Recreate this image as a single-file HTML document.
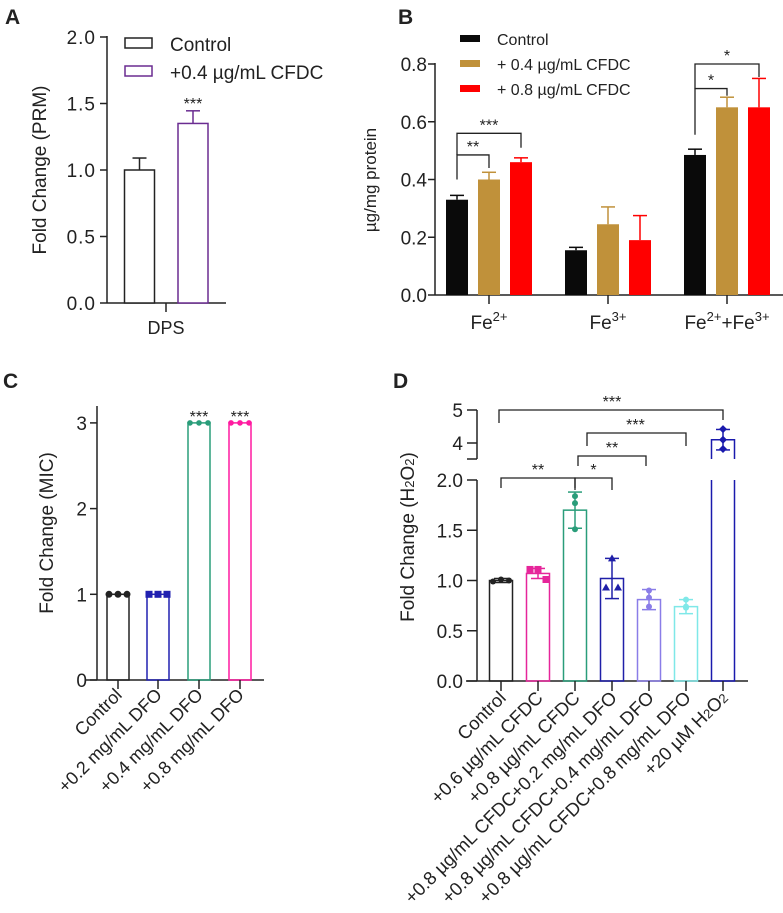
<!DOCTYPE html>
<html><head><meta charset="utf-8"><style>
html,body{margin:0;padding:0;background:#fff;}
svg{display:block;font-family:"Liberation Sans",Arial,sans-serif;}
</style></head><body>
<svg id="fig" width="783" height="913" viewBox="0 0 783 913" xmlns="http://www.w3.org/2000/svg"></svg>
<script>
// ---- Panel A data
const aCats = ["Control", "+0.4 µg/mL CFDC"];
const aVals = [1.0, 1.35];
const aErr = [0.09, 0.095];
const aTicks = ["0.0","0.5","1.0","1.5","2.0"];
// ---- Panel B data
const bGroups = ["2+", "3+", "2+ +3+"];
const bSeries = ["Control", "+ 0.4 µg/mL CFDC", "+ 0.8 µg/mL CFDC"];
const bCtrl = [0.33, 0.155, 0.485];
const bC04 = [0.40, 0.245, 0.65];
const bC08 = [0.46, 0.19, 0.65];
const bCtrlErr = [0.015, 0.01, 0.02];
const bC04Err = [0.025, 0.06, 0.035];
const bC08Err = [0.015, 0.085, 0.10];
const bTicks = ["0.0","0.2","0.4","0.6","0.8"];
// ---- Panel C data
const cCats = ["Control","+0.2 mg/mL DFO","+0.4 mg/mL DFO","+0.8 mg/mL DFO"];
const cVals = [1, 1, 3, 3];
const cPts = [[1,1,1],[1,1,1],[3,3,3],[3,3,3]];
const cTicks = ["0","1","2","3"];
// ---- Panel D data
const dCats = ["Control","+0.6 µg/mL CFDC","+0.8 µg/mL CFDC","+0.8 µg/mL CFDC+0.2 mg/mL DFO","+0.8 µg/mL CFDC+0.4 mg/mL DFO","+0.8 µg/mL CFDC+0.8 mg/mL DFO","+20 µM H2O2"];
const dVals = [1.0, 1.07, 1.70, 1.02, 0.81, 0.74, 4.10];
const dErr = [0.02, 0.05, 0.18, 0.20, 0.10, 0.07, 0.31];
const dPts = [[0.99,1.01,1.00],[1.11,1.11,1.01],[1.84,1.77,1.51],[0.93,1.22,0.93],[0.90,0.83,0.74],[0.81,0.74,0.73],[4.42,4.10,3.82]];
const dTicksLow = ["0.0","0.5","1.0","1.5","2.0"];
const dTicksHigh = ["4","5"];

const NS="http://www.w3.org/2000/svg";
const svg=document.getElementById('fig');
function el(tag,attrs,parent){const e=document.createElementNS(NS,tag);for(const k in attrs)e.setAttribute(k,attrs[k]);(parent||svg).appendChild(e);return e;}
function line(x1,y1,x2,y2,c,w,name){const e=el('line',{x1,y1,x2,y2,stroke:c||'#222','stroke-width':w||1.5});

return e;}
function txt(x,y,s,size,anchor,name,extra){const e=el('text',Object.assign({x,y,'font-size':size,'text-anchor':anchor||'start',fill:'#222'},extra||{}));e.textContent=s;

return e;}
function path(d,c,w,name){const e=el('path',{d,stroke:c,'stroke-width':w||1.5,fill:'none'});

return e;}

// Panel titles
txt(5,24,"A",21,'start','panel-a-title',{'font-weight':'bold'});
txt(398,24,"B",21,'start','panel-b-title',{'font-weight':'bold'});
txt(3,388,"C",21,'start','panel-c-title',{'font-weight':'bold'});
txt(393,388,"D",21,'start','panel-d-title',{'font-weight':'bold'});

// ================= Panel A
(function(){
 const x0=107,y0=303,ppu=133;
 const y=v=>y0-v*ppu;
 line(x0,y(2.0)-1,x0,y0,'#222',1.5,'a-y-axis');
 line(x0,y0,226,y0,'#222',1.5,'a-x-axis');
 aTicks.forEach(t=>{const v=parseFloat(t);line(x0-7,y(v),x0,y(v),'#222',1.5,'a-y-tick');txt(x0-11,y(v)+7,t,19,'end','a-y-tick-label',{'letter-spacing':'1'});});
 line(166,y0,166,312,'#222',1.5,'a-x-tick');
 txt(166,334,"DPS",18,'middle','a-x-label');
 const t=txt(46,170,"Fold Change (PRM)",19,'middle','a-y-axis-title');t.setAttribute('transform','rotate(-90 46 170)');
 const cols=['#222','#6a2c91'];const cx=[139.5,193];const bw=30;
 aVals.forEach((v,i)=>{
  const r=el('rect',{x:cx[i]-bw/2,y:y(v),width:bw,height:y0-y(v),fill:'#fff',stroke:cols[i],'stroke-width':1.5});
  
  
  line(cx[i],y(v),cx[i],y(v+aErr[i]),cols[i],1.5,'a-error-bar');
  line(cx[i]-7,y(v+aErr[i]),cx[i]+7,y(v+aErr[i]),cols[i],1.5,'a-error-cap');
 });
 txt(193,y(aVals[1]+aErr[1])-2,"***",16,'middle','a-significance');
 aCats.forEach((c,i)=>{
  const r=el('rect',{x:125,y:38+i*28,width:27,height:10,fill:'#fff',stroke:cols[i],'stroke-width':1.5});
  
  
  txt(170,51+i*28,c,19,'start','a-legend-entry');
 });
})();

// ================= Panel B
(function(){
 const x0=435,y0=295,ppu=288.75;
 const y=v=>y0-v*ppu;
 line(x0,y(0.8)-1,x0,y0,'#222',1.5,'b-y-axis');
 line(x0,y0,783,y0,'#222',1.5,'b-x-axis');
 bTicks.forEach(t=>{const v=parseFloat(t);line(x0-7,y(v),x0,y(v),'#222',1.5,'b-y-tick');txt(x0-8,y(v)+7,t,19,'end','b-y-tick-label');});
 const t=txt(376,180,"µg/mg protein",17,'middle','b-y-axis-title');t.setAttribute('transform','rotate(-90 376 180)');
 const gx=[489,608,727];const off=[-32,0,32];const bw=22;
 const cols=['#0a0a0a','#c0913a','#ff0000'];
 const series=[bCtrl,bC04,bC08];const errs=[bCtrlErr,bC04Err,bC08Err];
 gx.forEach((g,gi)=>{
  line(g,y0,g,y0+9,'#222',1.5,'b-x-tick');
  series.forEach((s,si)=>{
   const cx=g+off[si];const v=s[gi];const e=errs[si][gi];
   line(cx,y(v),cx,y(v+e),cols[si],1.5,'b-error-bar');
   line(cx-7,y(v+e),cx+7,y(v+e),cols[si],1.5,'b-error-cap');
   const r=el('rect',{x:cx-bw/2,y:y(v),width:bw,height:y0-y(v),fill:cols[si]});
   
   
  });
 });
 function fe(x,parts,name){
  const e=el('text',{x,y:329,'font-size':19,'text-anchor':'middle',fill:'#222'});
  
  
  parts.forEach(p=>{const s=el('tspan',p.sup?{'font-size':13,dy:-8}:(p.down?{dy:8}:{}),e);s.textContent=p.t;});
 }
 fe(gx[0],[{t:'Fe'},{t:'2+',sup:1}],'b-x-label-fe2');
 fe(gx[1],[{t:'Fe'},{t:'3+',sup:1}],'b-x-label-fe3');
 fe(gx[2],[{t:'Fe'},{t:'2+',sup:1},{t:'+Fe',down:1},{t:'3+',sup:1}],'b-x-label-total');
 bSeries.forEach((s,i)=>{
  const r=el('rect',{x:460,y:35+i*25,width:20,height:7,fill:cols[i]});
  
  
  txt(497,45+i*25,s,16,'start','b-legend-entry');
 });
 const c0=gx[0]+off[0],c1=gx[0]+off[1],c2=gx[0]+off[2];
 path(`M${c0} ${y(0.40)} V${y(0.485)} H${c1} V${y(0.44)}`,'#222',1.3);
 txt((c0+c1)/2,y(0.485)-3,"**",16,'middle','b-significance');
 path(`M${c0} ${y(0.485)} V${y(0.56)} H${c2} V${y(0.51)}`,'#222',1.3);
 txt((c0+c2)/2,y(0.56)-3,"***",16,'middle','b-significance');
 const d0=gx[2]+off[0],d1=gx[2]+off[1],d2=gx[2]+off[2];
 path(`M${d0} ${y(0.555)} V${y(0.715)} H${d1} V${y(0.69)}`,'#222',1.3);
 txt((d0+d1)/2,y(0.715)-3,"*",16,'middle','b-significance');
 path(`M${d0} ${y(0.715)} V${y(0.8)} H${d2} V${y(0.755)}`,'#222',1.3);
 txt((d0+d2)/2,y(0.8)-3,"*",16,'middle','b-significance');
})();

// ================= Panel C
(function(){
 const x0=97,y0=680,ppu=85.7;
 const y=v=>y0-v*ppu;
 line(x0,406,x0,y0,'#222',1.5,'c-y-axis');
 line(85,y0,264,y0,'#222',1.5,'c-x-axis');
 cTicks.forEach(t=>{const v=parseFloat(t);line(x0-7,y(v),x0,y(v),'#222',1.5,'c-y-tick');txt(x0-10,y(v)+7,t,19,'end','c-y-tick-label');});
 const t=txt(53,533,"Fold Change (MIC)",19,'middle','c-y-axis-title');t.setAttribute('transform','rotate(-90 53 533)');
 const cx=[118,158,199,240];const bw=22;
 const cols=['#222','#2020b0','#2a9d7a','#ff1aa0'];
 cVals.forEach((v,i)=>{
  const r=el('rect',{x:cx[i]-bw/2,y:y(v),width:bw,height:y0-y(v),fill:'none',stroke:cols[i],'stroke-width':1.5});
  
  
  line(cx[i],y0,cx[i],y0+9,'#222',1.5,'c-x-tick');
  cPts[i].forEach((p,j)=>{
   const px=cx[i]+(j-1)*9;
   let m;
   if(i===1) m=el('rect',{x:px-3.5,y:y(p)-3.5,width:7,height:7,fill:cols[i]});
   else m=el('circle',{cx:px,cy:y(p),r:i>=2?2.8:3.5,fill:cols[i]});
   
   
  });
  const lb=txt(cx[i]+5,y0+16,cCats[i],18,'end','c-x-label');lb.setAttribute('transform',`rotate(-45 ${cx[i]+5} ${y0+16})`);
  if(v>=3) txt(cx[i],y(v)-1,"***",16,'middle','c-significance');
 });
})();

// ================= Panel D
(function(){
 const x0=477,y0=681,ppu=100.5;
 const yl=v=>y0-v*ppu;
 const yh=v=>443-(v-4)*33;
 const y=v=>v<=2?yl(v):yh(v);
 line(x0,yl(2),x0,y0,'#222',1.5,'d-y-axis-lower');
 line(x0,yh(5),x0,459,'#222',1.5,'d-y-axis-upper');
 line(x0-10,459,x0,459,'#222',1.5,'d-axis-break');
 line(466,y0,748,y0,'#222',1.5,'d-x-axis');
 dTicksLow.forEach(t=>{const v=parseFloat(t);line(x0-10,yl(v),x0,yl(v),'#222',1.5,'d-y-tick');txt(x0-14,yl(v)+7,t,19,'end','d-y-tick-label');});
 dTicksHigh.forEach(t=>{const v=parseFloat(t);line(x0-10,yh(v),x0,yh(v),'#222',1.5,'d-y-tick');txt(x0-14,yh(v)+7,t,19,'end','d-y-tick-label');});
 const yt=el('text',{x:414,y:537,'font-size':19,'text-anchor':'middle',fill:'#222',transform:'rotate(-90 414 537)'});
 
 
 [['Fold Change (H',0],['2',1],['O',0],['2',1],[')',0]].forEach(p=>{const s=el('tspan',p[1]?{'font-size':13}:{},yt);s.textContent=p[0];});
 const cx=dCats.map((c,i)=>501+i*37);const bw=23;
 const cols=['#222','#e6259a','#2a9d7a','#1f1fa8','#8a7de8','#7fe8e8','#1a1aad'];
 dVals.forEach((v,i)=>{
  const c=cols[i];const L=cx[i]-bw/2,R=cx[i]+bw/2;
  if(v<=2){
   const r=el('rect',{x:L,y:yl(v),width:bw,height:y0-yl(v),fill:'none',stroke:c,'stroke-width':1.5});
   
   
  } else {
   path(`M${L} ${yl(2)} V${y0} H${R} V${yl(2)}`,c,1.5,'d-bar-'+i+'-lower');
   path(`M${L} 459 V${yh(v)} H${R} V459`,c,1.5,'d-bar-'+i+'-upper');
  }
  const hi=v+dErr[i],lo=v-dErr[i];
  line(cx[i],y(lo),cx[i],y(hi),c,1.5,'d-error-bar');
  line(cx[i]-7,y(hi),cx[i]+7,y(hi),c,1.5,'d-error-cap');
  line(cx[i]-7,y(lo),cx[i]+7,y(lo),c,1.5,'d-error-cap');
  dPts[i].forEach((p,j)=>{
   const spread=(i<=1)?8:0;
   const px=cx[i]+(i===3?(j===0?-6:(j===2?6:0)):(j-1)*spread);
   const py=y(p);
   let m;
   if(i===1) m=el('rect',{x:px-3.5,y:py-3.5,width:7,height:7,fill:c});
   else if(i===3) m=el('polygon',{points:`${px},${py-4} ${px-4},${py+3} ${px+4},${py+3}`,fill:c});
   else if(i===6) m=el('polygon',{points:`${px},${py-4} ${px+4},${py} ${px},${py+4} ${px-4},${py}`,fill:c});
   else m=el('circle',{cx:px,cy:py,r:3,fill:c});
   
   
  });
  line(cx[i],y0,cx[i],y0+10,'#222',1.5,'d-x-tick');
  const lx=cx[i]+6,ly=y0+18;
  const lb=el('text',{x:lx,y:ly,'font-size':18.5,'text-anchor':'end',fill:'#222',transform:`rotate(-45 ${lx} ${ly})`});
  
  
  const m=dCats[i].match(/^(.*)H2O2$/);
  if(m){[[m[1]+'H',0],['2',1],['O',0],['2',1]].forEach(p=>{const s=el('tspan',p[1]?{'font-size':13}:{},lb);s.textContent=p[0];});}
  else lb.textContent=dCats[i];
 });
 const B=(a,b,yt,ya,yb,s)=>{path(`M${cx[a]} ${ya} V${yt} H${cx[b]} V${yb}`,'#222',1.3);txt((cx[a]+cx[b])/2,yt-3,s,16,'middle','d-significance');};
 B(0,2,478,488,488,"**");
 path(`M${cx[2]} 490 V478 H${cx[3]} V490`,'#222',1.3);txt((cx[2]+cx[3])/2,475,"*",16,'middle','d-significance');
 path(`M${cx[2]+3} 466 V456 H${cx[4]-3} V466`,'#222',1.3);txt((cx[2]+cx[4])/2,453,"**",16,'middle','d-significance');
 path(`M${cx[2]+12} 446 V433 H${cx[5]} V446`,'#222',1.3);txt((cx[2]+cx[5])/2+5,430,"***",16,'middle','d-significance');
 path(`M${cx[0]-2} 423 V410 H${cx[6]} V420`,'#222',1.3);txt((cx[0]+cx[6])/2,407,"***",16,'middle','d-significance');
})();
</script>
</body></html>
